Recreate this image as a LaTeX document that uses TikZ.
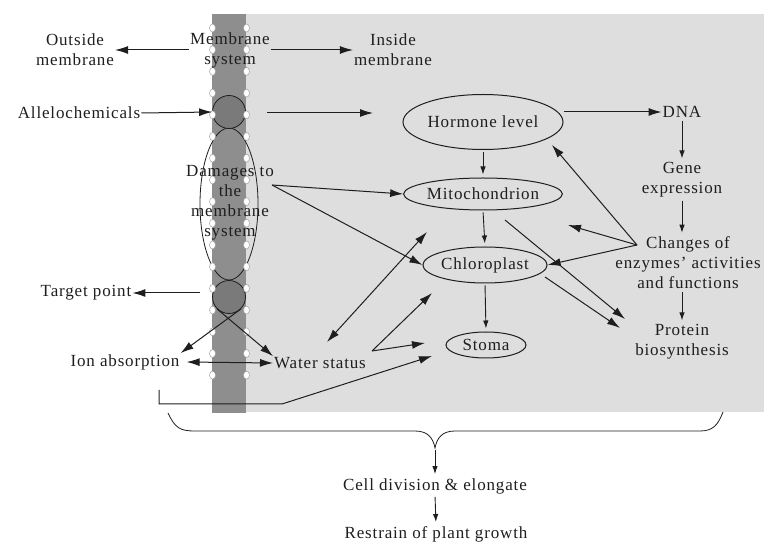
\documentclass[tikz,border=0pt]{standalone}
\usepackage{fontspec}
\setmainfont{Liberation Serif}
\usetikzlibrary{arrows.meta,shapes.geometric}
\definecolor{ink}{HTML}{1E1E1E}
\definecolor{paleg}{HTML}{DEDEDE}
\definecolor{bandg}{HTML}{8E8E8E}
\definecolor{cellg}{HTML}{7A7A7A}
\definecolor{dotg}{HTML}{A0A0A0}
\newcommand\lblfont{\fontsize{17}{20}\selectfont\addfontfeature{LetterSpace=5}}
\begin{document}
\begin{tikzpicture}[x=1pt,y=-1pt,
  txt/.style={font=\lblfont, text=ink, align=center, inner sep=1pt},
  oval/.style={ellipse, draw=ink, line width=1pt, inner sep=0pt, font=\lblfont, text=ink},
  arr/.style={draw=ink, line width=1pt, -{Latex[length=13pt,width=8pt]}},
  darr/.style={draw=ink, line width=1pt, {Latex[length=13pt,width=8pt]}-{Latex[length=13pt,width=8pt]}},
  sarr/.style={draw=ink, line width=0.9pt, -{Latex[length=8pt,width=5.5pt]}, shorten >=3pt, shorten <=2pt}]
     \useasboundingbox (0,0) rectangle (764,545);
     \fill[paleg] (212,14) rectangle (764,412);
     \fill[bandg] (212,14) rectangle (246,413);
     \draw[ink, line width=0.8pt] (229,204) ellipse [x radius=29pt, y radius=76pt];
     \node[circle, draw=ink, fill=cellg, line width=0.8pt, minimum size=33pt, inner sep=0pt] (c1) at (229,112) {};
     \node[circle, draw=ink, fill=cellg, line width=0.8pt, minimum size=33pt, inner sep=0pt] (c2) at (229,297) {};
     \foreach \k in {0,...,16} {
       \draw[dotg, fill=white, line width=0.5pt] (212.5,28+21.7*\k) ellipse [x radius=3pt, y radius=4pt];
       \draw[dotg, fill=white, line width=0.5pt] (246.5,28+21.7*\k) ellipse [x radius=3pt, y radius=4pt];
     }

     \node[txt] (outs) at (75,50) {Outside\\membrane};
     \node[txt] (memb) at (230,50) {Membrane\\system};
     \node[txt] (ins) at (393,50) {Inside\\membrane};
     \node[txt] (alle) at (79,113) {Allelochemicals};
     \node[txt] (dmg) at (230,203) {Damages to\\the\\membrane\\system};
     \node[txt] (targ) at (86,293) {Target point};
     \node[txt] (ion) at (125,362) {Ion absorption};
     \node[txt] (water) at (320,363) {Water status};
     \node[oval, minimum width=160pt, minimum height=55pt] (horm) at (483,122) {Hormone level};
     \node[oval, minimum width=134pt, minimum height=32pt] (mito) at (483,194) {Mitochondrion};
     \node[oval, minimum width=106pt, minimum height=36pt] (chl) at (485,265) {Chloroplast};
     \node[oval, minimum width=80pt, minimum height=26pt] (stoma) at (486,345) {Stoma};
     \node[txt] (dna) at (682,112) {DNA};
     \node[txt] (gene) at (682,180) {Gene\\expression};
     \node[txt] (chg) at (688,263) {Changes of\\enzymes' activities\\and functions};
     \node[txt] (prot) at (682,342) {Protein\\biosynthesis};
     \node[txt] (cell) at (435,486) {Cell division \& elongate};
     \node[txt] (restr) at (436,534) {Restrain of plant growth};

     \coordinate (allA) at (267,113); \coordinate (allB) at (373,113);
     \coordinate (dmgR) at (272,185);
     \coordinate (chgL) at (637,245); \coordinate (hk) at (552,145); \coordinate (mk) at (568,225);
     \coordinate (mitoS) at (505,220); \coordinate (chlS) at (545,277);
     \coordinate (protA) at (625,319); \coordinate (protB) at (620,328);
     \coordinate (wA) at (327,342); \coordinate (wB) at (427,232);
     \coordinate (wS) at (372,351); \coordinate (wC) at (432,293); \coordinate (wD) at (425,343);
     \coordinate (bk1) at (159,390); \coordinate (bk2) at (159,404); \coordinate (bk3) at (282,404); \coordinate (bk4) at (432,356);
     \coordinate (brtip) at (435,448);

     \draw[arr] (memb.west) -- (outs.east);
     \draw[arr] (memb.east) -- (ins.west);
     \draw[arr] (alle.east) -- (c1.west);
     \draw[arr] (allA) -- (allB);
     \draw[arr] (dmgR) -- (mito.west);
     \draw[arr] (dmgR) -- (chl.west);
     \draw[arr] ([xshift=-12pt,yshift=4pt]c2.west) -- (targ.east);
     \draw[arr] (c2.south east) -- (ion.north east);
     \draw[arr] (c2.south west) -- (water.north west);
     \draw[darr] ([xshift=6pt]ion.east) -- (water.west);
     \draw[darr] (wA) -- (wB);
     \draw[arr] (wS) -- (wC);
     \draw[arr] (wS) -- (wD);
     \draw[arr] (bk1) -- (bk2) -- (bk3) -- (bk4);
     \draw[sarr] (horm.south) -- (mito.north);
     \draw[sarr] (mito.south) -- (chl.north);
     \draw[sarr] (chl.south) -- (stoma.north);
     \draw[arr] ([yshift=10pt]horm.east) -- (dna.west);
     \draw[sarr] (dna.south) -- (gene.north);
     \draw[sarr] (gene.south) -- (gene.south |- chg.north);
     \draw[sarr] (prot.north |- chg.south) -- (prot.north);
     \draw[arr] (chgL) -- (hk);
     \draw[arr] (chgL) -- (mk);
     \draw[arr] (chgL) -- (chl.east);
     \draw[arr] (mitoS) -- (protA);
     \draw[arr] (chlS) -- (protB);
     \draw[ink, line width=0.8pt] (168,413) .. controls (175,428) and (180,431) .. (195,431) -- (415,431)
       .. controls (428,431) and (433,438) .. (brtip) .. controls (437,438) and (442,431) .. (455,431)
       -- (700,431) .. controls (713,431) and (718,425) .. (723,412);
     \draw[sarr] (brtip) -- (cell.north);
     \draw[sarr] (cell.south) -- (restr.north);
    \end{tikzpicture}
\end{document}
